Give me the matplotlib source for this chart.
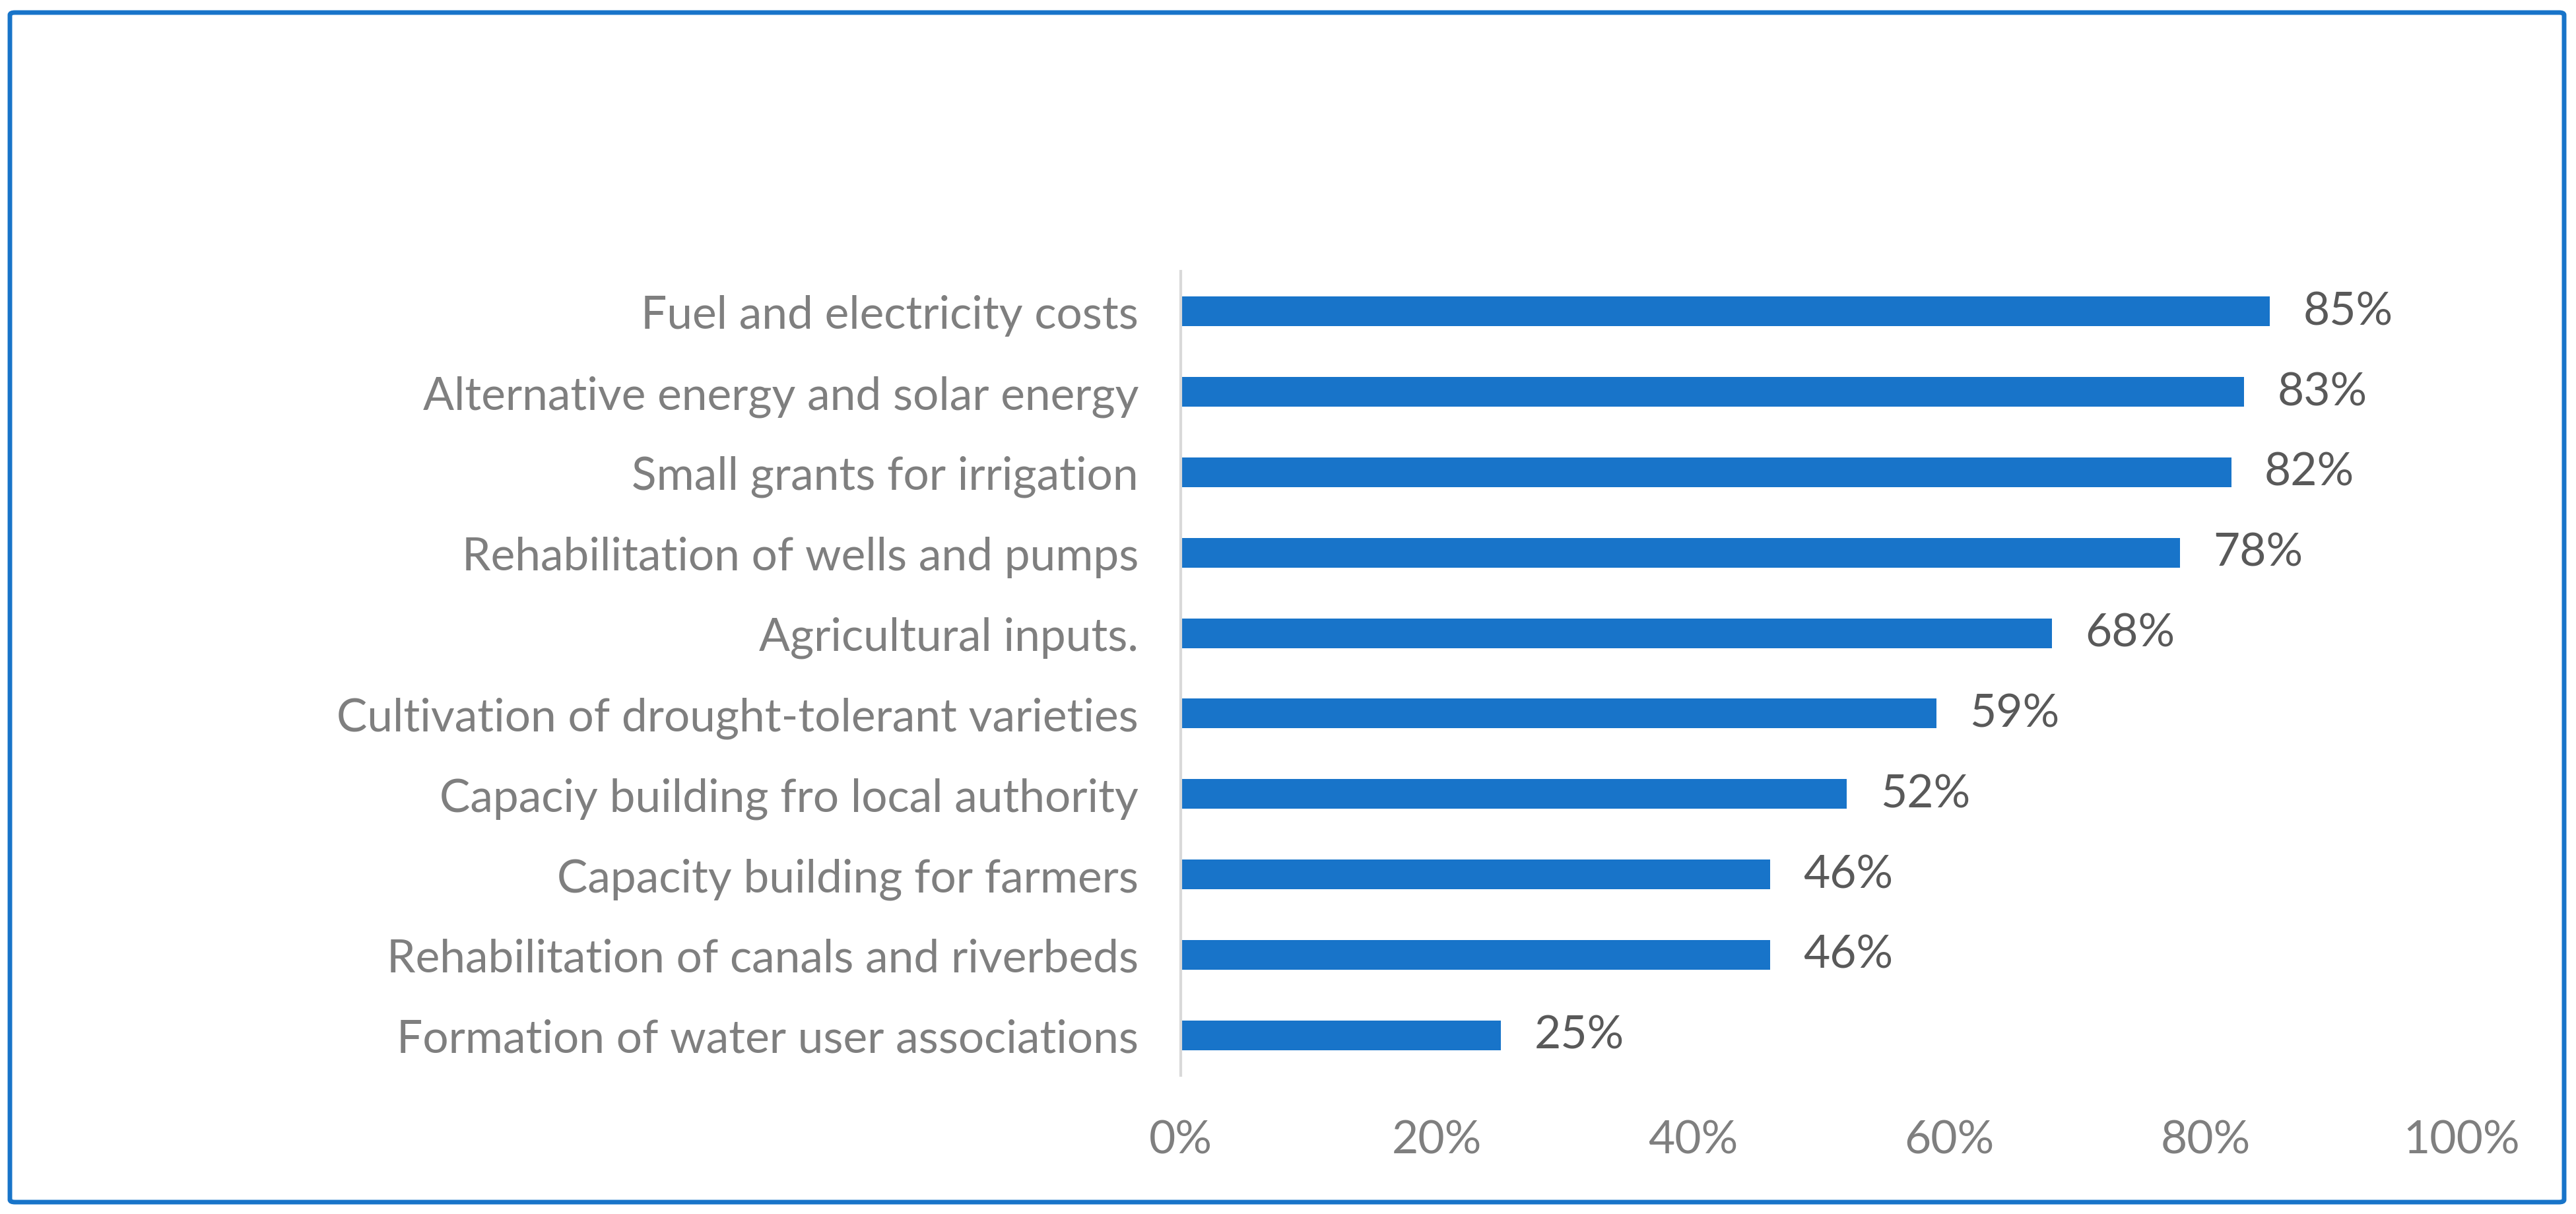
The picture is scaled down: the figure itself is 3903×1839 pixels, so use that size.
import matplotlib
matplotlib.use("Agg")
import matplotlib.pyplot as plt
from matplotlib.patches import FancyBboxPatch
from matplotlib.ticker import PercentFormatter

plt.rcParams['font.family'] = ['Lato', 'DejaVu Sans']

categories = [
    "Fuel and electricity costs",
    "Alternative energy and solar energy",
    "Small grants for irrigation",
    "Rehabilitation of wells and pumps",
    "Agricultural inputs.",
    "Cultivation of drought-tolerant varieties",
    "Capaciy building fro local authority",
    "Capacity building for farmers",
    "Rehabilitation of canals and riverbeds",
    "Formation of water user associations",
]
values = [0.85, 0.83, 0.82, 0.78, 0.68, 0.59, 0.52, 0.46, 0.46, 0.25]
xticks = [0, 0.2, 0.4, 0.6, 0.8, 1.0]

bar_col = '#1874C9'
fig = plt.figure(figsize=(39.03, 18.40), dpi=100)

# outer blue frame
frame = FancyBboxPatch((15 / 3903, 1 - 1822 / 1840), (3885 - 15) / 3903, (1822 - 20) / 1840,
                       boxstyle="round,pad=0,rounding_size=0.002", transform=fig.transFigure,
                       facecolor='none', edgecolor=bar_col, linewidth=5, zorder=10)
fig.patches.append(frame)

ax = fig.add_axes([1789 / 3903, 1 - 1630 / 1840, (3730 - 1789) / 3903, (1630 - 412) / 1840])
y = list(range(len(categories)))
ax.barh(y, values, height=0.37, color=bar_col)
ax.set_ylim(len(categories) - 0.5, -0.5)
ax.set_xlim(0, 1)
ax.set_yticks(y)
ax.set_yticklabels(categories, fontsize=50, color='#7F7F7F')
ax.set_xticks(xticks)
ax.xaxis.set_major_formatter(PercentFormatter(1.0, decimals=0))
ax.tick_params(axis='x', length=0, pad=48, labelsize=50, labelcolor='#7F7F7F')
ax.tick_params(axis='y', length=0, pad=46)

for s in ['top', 'right', 'bottom']:
    ax.spines[s].set_visible(False)
ax.spines['left'].set_color('#D9D9D9')
ax.spines['left'].set_linewidth(3)

for yi, v in zip(y, values):
    ax.text(v + 0.026, yi, f"{round(v * 100)}%", va='center', ha='left', fontsize=50, color='#595959')

fig.savefig("out.png", dpi=100)
